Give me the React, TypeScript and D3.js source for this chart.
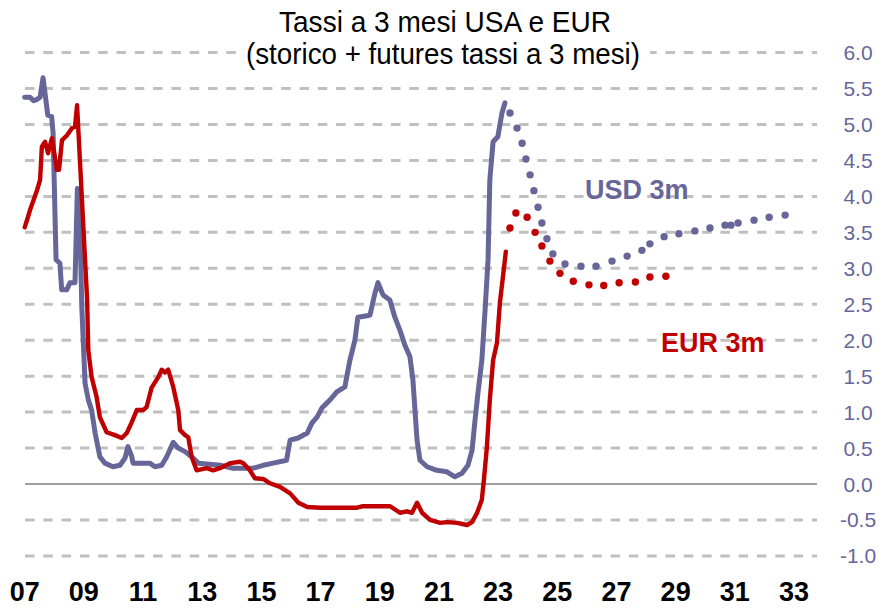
import React from "react";
import * as d3 from "d3";

// ---------- DATA (decimal year, % rate) ----------
const usdHistory: [number, number][] = [
  [2007.0, 5.38], [2007.18, 5.38], [2007.3, 5.33], [2007.42, 5.35], [2007.52, 5.38], [2007.62, 5.65],
  [2007.78, 5.13], [2007.91, 5.11], [2007.96, 4.88], [2008.06, 3.12], [2008.19, 3.07],
  [2008.25, 2.7], [2008.42, 2.7], [2008.53, 2.8], [2008.7, 2.8], [2008.78, 4.11],
  [2008.84, 4.07], [2008.93, 2.46], [2009.04, 1.4], [2009.15, 1.17], [2009.26, 1.03],
  [2009.38, 0.71], [2009.54, 0.38], [2009.71, 0.29], [2009.98, 0.24], [2010.22, 0.26],
  [2010.39, 0.36], [2010.49, 0.52], [2010.62, 0.38], [2010.66, 0.29], [2011.23, 0.29],
  [2011.4, 0.24], [2011.63, 0.26], [2011.8, 0.38], [2012.02, 0.58], [2012.19, 0.5],
  [2012.42, 0.45], [2012.64, 0.38], [2012.87, 0.29], [2013.6, 0.26], [2014.05, 0.22],
  [2014.73, 0.22], [2015.06, 0.26], [2015.4, 0.29], [2015.85, 0.33], [2015.97, 0.61],
  [2016.24, 0.64], [2016.55, 0.71], [2016.71, 0.85], [2016.88, 0.93], [2017.05, 1.06],
  [2017.32, 1.17], [2017.55, 1.28], [2017.82, 1.35], [2017.99, 1.72], [2018.16, 2.0],
  [2018.26, 2.32], [2018.57, 2.34], [2018.67, 2.35], [2018.84, 2.66], [2018.94, 2.8],
  [2019.11, 2.63], [2019.34, 2.56], [2019.51, 2.32], [2019.68, 2.14], [2019.85, 1.93],
  [2020.02, 1.77], [2020.12, 1.45], [2020.19, 1.03], [2020.26, 0.61], [2020.36, 0.33],
  [2020.6, 0.24], [2020.93, 0.19], [2021.27, 0.17], [2021.54, 0.1], [2021.78, 0.15],
  [2021.98, 0.26], [2022.12, 0.47], [2022.22, 0.89], [2022.32, 1.27], [2022.45, 1.72],
  [2022.56, 2.42], [2022.66, 3.12], [2022.72, 4.23], [2022.83, 4.76], [2022.99, 4.83],
  [2023.13, 5.16], [2023.23, 5.3],
];

const eurHistory: [number, number][] = [
  [2007.0, 3.57], [2007.1, 3.7], [2007.18, 3.81], [2007.3, 3.95], [2007.42, 4.09], [2007.52, 4.23], [2007.58, 4.69],
  [2007.69, 4.76], [2007.79, 4.6], [2007.92, 4.81], [2008.09, 4.37], [2008.16, 4.37],
  [2008.26, 4.78], [2008.43, 4.85], [2008.6, 4.95], [2008.7, 4.97], [2008.77, 5.27],
  [2008.94, 3.91], [2009.11, 2.56], [2009.15, 1.86], [2009.26, 1.49], [2009.43, 1.21],
  [2009.54, 0.93], [2009.77, 0.72], [2010.05, 0.68], [2010.28, 0.64], [2010.45, 0.71],
  [2010.62, 0.86], [2010.79, 1.03], [2011.01, 1.03], [2011.12, 1.07], [2011.29, 1.34],
  [2011.52, 1.49], [2011.63, 1.59], [2011.74, 1.55], [2011.85, 1.59], [2012.02, 1.35],
  [2012.19, 1.03], [2012.25, 0.75], [2012.42, 0.68], [2012.53, 0.65], [2012.64, 0.38],
  [2012.81, 0.19], [2013.15, 0.22], [2013.37, 0.19], [2013.6, 0.22], [2013.94, 0.29],
  [2014.28, 0.31], [2014.39, 0.29], [2014.61, 0.19], [2014.78, 0.08], [2015.06, 0.07],
  [2015.29, 0.01], [2015.63, -0.04], [2015.97, -0.13], [2016.25, -0.26], [2016.55, -0.32],
  [2016.99, -0.33], [2018.24, -0.33], [2018.4, -0.31], [2019.35, -0.31], [2019.68, -0.4],
  [2019.92, -0.38], [2020.09, -0.4], [2020.26, -0.26], [2020.43, -0.4], [2020.7, -0.5],
  [2021.04, -0.54], [2021.27, -0.53], [2021.61, -0.54], [2021.95, -0.57], [2022.12, -0.53],
  [2022.29, -0.4], [2022.45, -0.22], [2022.52, 0.06], [2022.62, 0.51], [2022.72, 1.17],
  [2022.83, 1.72], [2022.96, 1.96], [2023.06, 2.52], [2023.23, 3.12], [2023.26, 3.23],
];

const usdFutures: [number, number][] = [
  [2023.4, 5.16], [2023.64, 4.95], [2023.81, 4.74], [2023.94, 4.52], [2024.08, 4.3],
  [2024.21, 4.08], [2024.35, 3.85], [2024.48, 3.63], [2024.65, 3.41], [2024.85, 3.2],
  [2025.26, 3.06], [2025.8, 3.03], [2026.31, 3.03], [2026.85, 3.1], [2027.36, 3.17],
  [2027.86, 3.25], [2028.13, 3.34], [2028.61, 3.44], [2029.11, 3.48], [2029.65, 3.52],
  [2030.16, 3.56], [2030.67, 3.6], [2030.87, 3.6], [2031.11, 3.63], [2031.65, 3.67],
  [2032.16, 3.71], [2032.7, 3.74],
];

const eurFutures: [number, number][] = [
  [2023.4, 3.56], [2023.6, 3.77], [2023.98, 3.71], [2024.25, 3.5], [2024.48, 3.31],
  [2024.75, 3.1], [2025.09, 2.93], [2025.54, 2.82], [2026.07, 2.77], [2026.57, 2.76],
  [2027.09, 2.8], [2027.64, 2.81], [2028.13, 2.88], [2028.67, 2.89],
];

const xTickYears = [2007, 2009, 2011, 2013, 2015, 2017, 2019, 2021, 2023, 2025, 2027, 2029, 2031, 2033];
const yTicks = [6, 5.5, 5, 4.5, 4, 3.5, 3, 2.5, 2, 1.5, 1, 0.5, 0, -0.5, -1];

const titleLine1 = "Tassi a 3 mesi USA e EUR";
const titleLine2 = "(storico + futures tassi a 3 mesi)";
const usdLabel = "USD 3m";
const eurLabel = "EUR 3m";

const USD_COLOR = "#666699";
const EUR_COLOR = "#C00000";

export default function App() {
  const W = 892;
  const H = 608;
  const x = d3.scaleLinear().domain([2007, 2033]).range([24.7, 794]);
  const y = d3.scaleLinear().domain([-1, 6]).range([555.9, 52.6]);
  const gridX0 = 25;
  const gridX1 = 817;

  const line = d3
    .line<[number, number]>()
    .x((d) => x(d[0]))
    .y((d) => y(d[1]));

  const font = "'Liberation Sans', Arial, sans-serif";

  return (
    <svg
      width={W}
      height={H}
      style={{ position: "absolute", left: 0, top: 0, background: "#fff" }}
      fontFamily={font}
    >
      <rect x={0} y={0} width={W} height={H} fill="#fff" />
      {/* gridlines */}
      {yTicks.map((t) =>
        t === 0 ? null : (
          <line
            key={"g" + t}
            x1={gridX0}
            x2={gridX1}
            y1={y(t)}
            y2={y(t)}
            stroke="#C0C0C0"
            strokeWidth={3}
            strokeDasharray="9.5 8.8"
          />
        )
      )}
      <line x1={gridX0} x2={gridX1} y1={y(0)} y2={y(0)} stroke="#404040" strokeWidth={1} />

      {/* y labels */}
      {yTicks.map((t) => (
        <text
          key={"yl" + t}
          x={858}
          y={y(t) + 7.5}
          textAnchor="middle"
          fontSize={21}
          fill={USD_COLOR}
        >
          {t.toFixed(1)}
        </text>
      ))}

      {/* x labels */}
      {xTickYears.map((yr) => (
        <text
          key={"xl" + yr}
          x={x(yr)}
          y={601}
          textAnchor="middle"
          fontSize={27}
          fontWeight="bold"
          fill="#000"
        >
          {String(yr % 100).padStart(2, "0")}
        </text>
      ))}

      {/* title */}
      <rect x={236} y={36} width={414} height={36} fill="#fff" />
      <text
        x={445}
        y={32}
        textAnchor="middle"
        fontSize={29}
        textLength={332}
        lengthAdjust="spacingAndGlyphs"
        fill="#000"
      >
        {titleLine1}
      </text>
      <text
        x={443}
        y={63.5}
        textAnchor="middle"
        fontSize={29}
        textLength={394}
        lengthAdjust="spacingAndGlyphs"
        fill="#000"
      >
        {titleLine2}
      </text>

      {/* series */}
      <path
        d={line(usdHistory) || ""}
        fill="none"
        stroke={USD_COLOR}
        strokeWidth={5}
        strokeLinejoin="round"
        strokeLinecap="round"
      />
      <path
        d={line(eurHistory) || ""}
        fill="none"
        stroke={EUR_COLOR}
        strokeWidth={4.4}
        strokeLinejoin="round"
        strokeLinecap="round"
      />
      {usdFutures.map((d, i) => (
        <circle key={"uf" + i} cx={x(d[0])} cy={y(d[1])} r={3.7} fill={USD_COLOR} />
      ))}
      {eurFutures.map((d, i) => (
        <circle key={"ef" + i} cx={x(d[0])} cy={y(d[1])} r={3.7} fill={EUR_COLOR} />
      ))}

      {/* series labels */}
      <text x={585} y={199} fontSize={27} fontWeight="bold" fill={USD_COLOR}>
        {usdLabel}
      </text>
      <text x={661} y={352} fontSize={27} fontWeight="bold" fill={EUR_COLOR}>
        {eurLabel}
      </text>
    </svg>
  );
}
